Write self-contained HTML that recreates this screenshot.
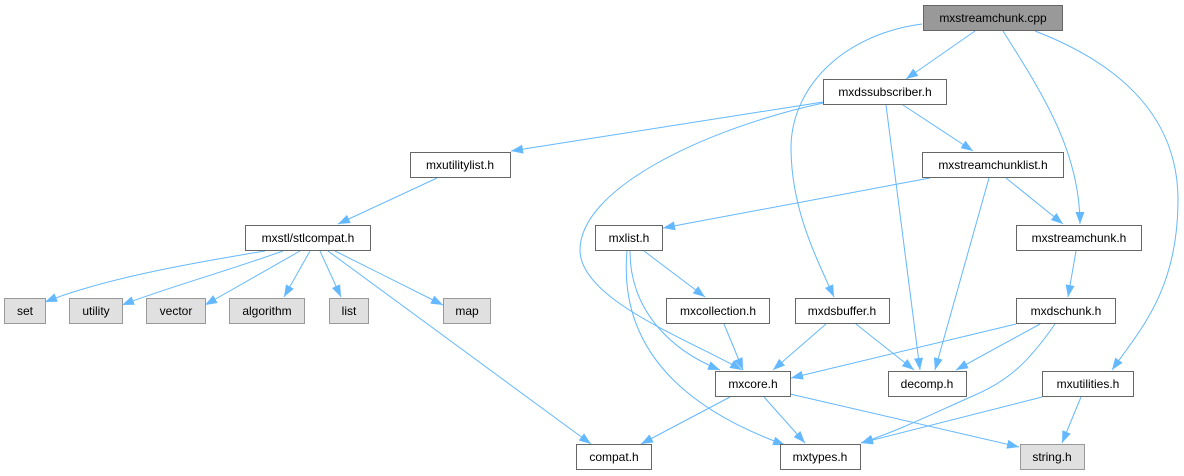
<!DOCTYPE html>
<html><head><meta charset="utf-8"><style>
html,body{margin:0;padding:0;background:#fff;}
svg{display:block;}
text{font-family:"Liberation Sans",sans-serif;font-size:12px;fill:#000;}
</style></head><body>
<svg width="1184" height="476" viewBox="0 0 1184 476" xmlns="http://www.w3.org/2000/svg">
<defs>
<marker id="a" markerUnits="userSpaceOnUse" markerWidth="13" markerHeight="10" refX="12" refY="5" orient="auto">
<path d="M0,0.5 L12,5 L0,9.5 z" fill="#63b8ff"/>
</marker>
</defs>
<g fill="none" stroke="#63b8ff" stroke-width="1" marker-end="url(#a)">
<path d="M975,31 L906,79"/>
<path d="M922,24 C840,35 790,90 791,150 C792,210 815,255 834,297"/>
<path d="M1003,31 C1040,90 1080,150 1080,224"/>
<path d="M1035,31 C1110,60 1178,110 1178,200 C1178,290 1140,330 1112,370"/>
<path d="M823,102 L511,151"/>
<path d="M823,103 C700,130 580,190 580,250 C580,300 690,340 742,370"/>
<path d="M886,105 L920,370"/>
<path d="M903,105 L973,151"/>
<path d="M437,178 L338,224"/>
<path d="M265,251 C180,265 100,280 45,302"/>
<path d="M283,251 C230,270 160,290 122,305"/>
<path d="M300,251 L205,305"/>
<path d="M310,251 L284,297"/>
<path d="M320,251 L341,297"/>
<path d="M335,251 L443,305"/>
<path d="M328,251 L591,444"/>
<path d="M930,178 L663,228"/>
<path d="M989,178 L935,370"/>
<path d="M1006,178 L1063,224"/>
<path d="M644,251 L705,297"/>
<path d="M630,251 C630,310 670,350 720,370"/>
<path d="M627,251 C620,330 660,400 785,445"/>
<path d="M1076,251 L1068,297"/>
<path d="M724,324 L743,370"/>
<path d="M826,324 L773,370"/>
<path d="M856,324 L914,370"/>
<path d="M1016,324 L791,378"/>
<path d="M1040,324 L956,370"/>
<path d="M1055,324 C1030,360 1010,380 975,395 C930,415 900,430 861,443"/>
<path d="M1042,397 L861,443"/>
<path d="M1081,397 L1062,443"/>
<path d="M730,397 L641,444"/>
<path d="M764,397 L805,443"/>
<path d="M790,394 L1019,447"/>
</g>
<g stroke-width="1">
<rect x="923.5" y="5.5" width="139" height="25" fill="#999" stroke="#666"/>
<rect x="823.5" y="79.5" width="123" height="25" fill="#fff" stroke="#666"/>
<rect x="410.5" y="152.5" width="100" height="25" fill="#fff" stroke="#666"/>
<rect x="922.5" y="152.5" width="141" height="25" fill="#fff" stroke="#666"/>
<rect x="245.5" y="225.5" width="125" height="25" fill="#fff" stroke="#666"/>
<rect x="595.5" y="225.5" width="67" height="25" fill="#fff" stroke="#666"/>
<rect x="1016.5" y="225.5" width="125" height="25" fill="#fff" stroke="#666"/>
<rect x="4.5" y="298.5" width="41" height="25" fill="#e0e0e0" stroke="#999"/>
<rect x="69.5" y="298.5" width="53" height="25" fill="#e0e0e0" stroke="#999"/>
<rect x="146.5" y="298.5" width="59" height="25" fill="#e0e0e0" stroke="#999"/>
<rect x="229.5" y="298.5" width="75" height="25" fill="#e0e0e0" stroke="#999"/>
<rect x="329.5" y="298.5" width="39" height="25" fill="#e0e0e0" stroke="#999"/>
<rect x="443.5" y="298.5" width="47" height="25" fill="#e0e0e0" stroke="#999"/>
<rect x="666.5" y="298.5" width="103" height="25" fill="#fff" stroke="#666"/>
<rect x="795.5" y="298.5" width="94" height="25" fill="#fff" stroke="#666"/>
<rect x="1016.5" y="298.5" width="99" height="25" fill="#fff" stroke="#666"/>
<rect x="715.5" y="371.5" width="75" height="25" fill="#fff" stroke="#666"/>
<rect x="888.5" y="371.5" width="78" height="25" fill="#fff" stroke="#666"/>
<rect x="1042.5" y="371.5" width="91" height="25" fill="#fff" stroke="#666"/>
<rect x="576.5" y="444.5" width="75" height="25" fill="#fff" stroke="#666"/>
<rect x="780.5" y="444.5" width="80" height="25" fill="#fff" stroke="#666"/>
<rect x="1020.5" y="444.5" width="64" height="25" fill="#e0e0e0" stroke="#999"/>
</g>
<g text-anchor="middle">
<text x="993" y="22">mxstreamchunk.cpp</text>
<text x="885" y="96">mxdssubscriber.h</text>
<text x="460" y="169">mxutilitylist.h</text>
<text x="993" y="169">mxstreamchunklist.h</text>
<text x="308" y="242">mxstl/stlcompat.h</text>
<text x="629" y="242">mxlist.h</text>
<text x="1079" y="242">mxstreamchunk.h</text>
<text x="25" y="315">set</text>
<text x="96" y="315">utility</text>
<text x="176" y="315">vector</text>
<text x="267" y="315">algorithm</text>
<text x="349" y="315">list</text>
<text x="467" y="315">map</text>
<text x="718" y="315">mxcollection.h</text>
<text x="842" y="315">mxdsbuffer.h</text>
<text x="1066" y="315">mxdschunk.h</text>
<text x="753" y="388">mxcore.h</text>
<text x="927" y="388">decomp.h</text>
<text x="1088" y="388">mxutilities.h</text>
<text x="614" y="461">compat.h</text>
<text x="820" y="461">mxtypes.h</text>
<text x="1052" y="461">string.h</text>
</g>
</svg>
</body></html>
